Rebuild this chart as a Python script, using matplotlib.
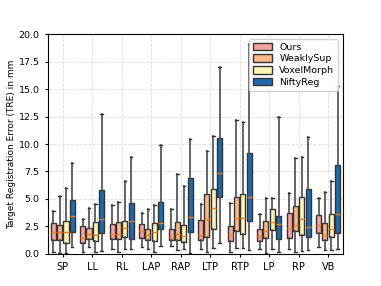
import numpy as np
import matplotlib
matplotlib.use("Agg")
import matplotlib.pyplot as plt

# landmark groups
groups = ["SP", "LL", "RL", "LAP", "RAP", "LTP", "RTP", "LP", "RP", "VB"]
methods = ["Ours", "WeaklySup", "VoxelMorph", "NiftyReg"]
colors = ["#f4a3a0", "#f9b88a", "#fff5b8", "#1f6aad"]

# box stats: whisker low, q1, median, q3, whisker high
ours_lo  = [0.15, 0.20, 0.43, 0.60, 0.73, 0.43, 0.20, 0.43, 0.43, 0.60]
ours_q1  = [1.30, 0.97, 1.33, 1.42, 1.27, 1.27, 1.15, 1.21, 1.42, 1.88]
ours_med = [2.00, 1.42, 1.79, 2.06, 1.51, 1.73, 1.73, 1.60, 2.33, 2.67]
ours_q3  = [2.85, 2.55, 2.70, 2.70, 2.27, 3.09, 2.52, 2.30, 3.70, 3.52]
ours_hi  = [3.94, 3.20, 4.45, 3.70, 4.06, 4.50, 4.67, 3.64, 5.50, 5.06]

weak_lo  = [0.05, 0.67, 0.20, 0.43, 0.36, 0.20, 0.50, 0.06, 0.20, 0.36]
weak_q1  = [1.27, 1.33, 1.33, 1.27, 1.27, 1.58, 2.12, 1.42, 2.06, 1.27]
weak_med = [2.00, 1.82, 1.79, 1.73, 1.85, 3.18, 3.24, 2.06, 2.67, 1.73]
weak_q3  = [2.60, 2.40, 2.90, 2.24, 2.90, 5.48, 5.21, 3.03, 4.36, 2.82]
weak_hi  = [5.30, 4.15, 4.76, 4.12, 7.24, 9.40, 12.20, 5.06, 8.73, 5.64]

vox_lo  = [0.12, 0.20, 0.43, 0.20, 0.43, 0.52, 0.52, 0.43, 0.30, 0.36]
vox_q1  = [0.97, 1.18, 1.50, 1.21, 1.09, 2.27, 1.80, 2.18, 1.73, 1.50]
vox_med = [2.03, 1.76, 2.36, 2.03, 1.67, 4.15, 3.24, 2.91, 3.15, 2.24]
vox_q3  = [2.97, 2.88, 2.97, 2.85, 2.67, 5.94, 5.45, 4.06, 5.21, 3.60]
vox_hi  = [6.00, 4.50, 6.60, 4.45, 6.15, 10.70, 12.00, 5.12, 8.85, 6.67]

nifty_lo  = [0.60, 0.30, 0.43, 0.73, 0.06, 1.00, 0.36, 0.20, 0.36, 0.43]
nifty_q1  = [1.97, 1.94, 1.40, 2.27, 1.97, 5.15, 2.97, 1.33, 1.50, 1.88]
nifty_med = [3.42, 3.20, 2.97, 2.82, 3.33, 7.40, 5.15, 2.70, 2.45, 3.67]
nifty_q3  = [4.90, 5.80, 4.64, 4.70, 6.94, 10.55, 9.20, 3.42, 5.90, 8.12]
nifty_hi  = [8.30, 12.75, 8.80, 9.94, 10.45, 16.97, 19.10, 12.50, 10.67, 15.30]

all_stats = [
    (ours_lo, ours_q1, ours_med, ours_q3, ours_hi),
    (weak_lo, weak_q1, weak_med, weak_q3, weak_hi),
    (vox_lo, vox_q1, vox_med, vox_q3, vox_hi),
    (nifty_lo, nifty_q1, nifty_med, nifty_q3, nifty_hi),
]

fig = plt.figure(figsize=(3.81, 2.86), dpi=100)
ax = fig.add_axes([0.126, 0.112, 0.774, 0.769])

x = np.arange(1, len(groups) + 1)
offsets = [-0.32, -0.11, 0.11, 0.32]
handles = []
for k, (lo, q1, med, q3, hi) in enumerate(all_stats):
    stats = []
    for i in range(len(groups)):
        stats.append(dict(whislo=lo[i], q1=q1[i], med=med[i], q3=q3[i],
                          whishi=hi[i], fliers=[]))
    bp = ax.bxp(stats, positions=x + offsets[k], widths=0.17,
                patch_artist=True, showfliers=False,
                boxprops=dict(facecolor=colors[k], edgecolor="#333333", linewidth=1.0),
                medianprops=dict(color="#ff7f0e", linewidth=1.0),
                whiskerprops=dict(color="#4a4a4a", linewidth=1.2),
                capprops=dict(color="#333333", linewidth=1.0))
    handles.append(bp["boxes"][0])

ax.set_xticks(x)
ax.set_xticklabels(groups, fontsize=7)
ax.set_xlim(0.5, 10.5)
ax.set_ylim(0, 20)
ax.set_yticks(np.arange(0, 20.01, 2.5))
ax.set_yticklabels(["%.1f" % v for v in np.arange(0, 20.01, 2.5)], fontsize=6.8)
ax.tick_params(length=2.5, width=0.8)
ax.set_ylabel("Target Registration Error (TRE) in mm", fontsize=6.5, labelpad=2)
ax.grid(True, linestyle="--", color="#dddddd", linewidth=0.6)
ax.set_axisbelow(True)

ax.legend(handles, methods, loc="upper right", fontsize=6.8,
          handlelength=2.0, handleheight=0.8, borderpad=0.4,
          labelspacing=0.3, framealpha=0.9)

fig.savefig("out.png", dpi=100)
